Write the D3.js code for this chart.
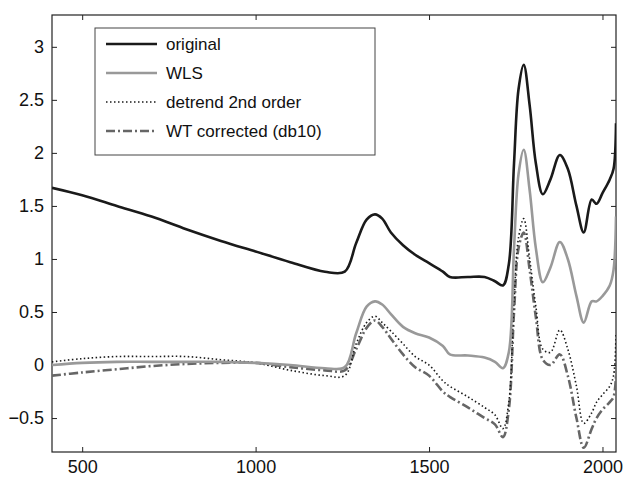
<!DOCTYPE html>
<html><head><meta charset="utf-8">
<script src="https://cdn.jsdelivr.net/npm/d3@7"></script>
<style>body{margin:0;background:#fff}text{font-family:"Liberation Sans",Arial,sans-serif}</style>
</head><body><svg id="chart" width="626" height="479"></svg>
<script>
var xs = [413,500,600,700,800,900,1000,1100,1200,1257,1290,1320,1344,1365,1390,1425,1460,1500,1540,1560,1612,1660,1690,1713,1730,1745,1758,1773,1790,1808,1828,1850,1877,1900,1925,1946,1969,1983,2000,2021,2032,2039];
var original = [1.67,1.6,1.5,1.4,1.28,1.17,1.07,0.97,0.88,0.88,1.15,1.37,1.42,1.38,1.25,1.13,1.04,0.96,0.88,0.83,0.83,0.83,0.79,0.75,0.95,1.9,2.6,2.83,2.45,1.9,1.61,1.75,1.98,1.85,1.5,1.25,1.56,1.52,1.62,1.75,1.85,2.28];
var wls = [0.0,0.02,0.03,0.03,0.03,0.03,0.02,0.0,-0.03,-0.02,0.3,0.55,0.6,0.57,0.48,0.36,0.3,0.26,0.18,0.1,0.09,0.07,0.03,-0.03,0.12,1.1,1.8,2.03,1.65,1.1,0.78,0.92,1.16,1.0,0.65,0.4,0.6,0.6,0.65,0.75,0.9,1.4];
var detrend = [0.03,0.06,0.08,0.08,0.08,0.05,0.02,-0.05,-0.1,-0.1,0.2,0.4,0.46,0.4,0.32,0.2,0.08,0.0,-0.15,-0.2,-0.3,-0.4,-0.47,-0.6,-0.35,0.6,1.2,1.38,1.0,0.55,0.15,0.12,0.33,0.15,-0.2,-0.55,-0.45,-0.35,-0.28,-0.2,-0.1,0.3];
var wt = [-0.1,-0.07,-0.04,-0.01,0.01,0.02,0.02,-0.02,-0.05,-0.05,0.15,0.35,0.42,0.36,0.25,0.1,-0.02,-0.1,-0.25,-0.3,-0.4,-0.5,-0.56,-0.68,-0.42,0.5,1.1,1.25,0.9,0.45,0.05,0.0,0.1,-0.1,-0.5,-0.78,-0.6,-0.5,-0.42,-0.35,-0.3,-0.1];
var xTicks = [500,1000,1500,2000];
var yTicks = [-0.5,0,0.5,1,1.5,2,2.5,3];
var series = [
  {name:"original", values:original, color:"#1a1a1a", width:2.6, dash:null},
  {name:"WLS", values:wls, color:"#999", width:2.6, dash:null},
  {name:"detrend 2nd order", values:detrend, color:"#1a1a1a", width:1.6, dash:"1.5,2.5"},
  {name:"WT corrected (db10)", values:wt, color:"#666", width:2.6, dash:"9,3,2,3"}
];

var svg = d3.select("#chart");
var pl = 52, pr = 616, pt = 15, pb = 452;
var x = d3.scaleLinear().domain([413,2039]).range([pl,pr]);
var y = d3.scaleLinear().domain([-0.82,3.3]).range([pb,pt]);

svg.append("rect").attr("x",pl).attr("y",pt).attr("width",pr-pl).attr("height",pb-pt)
  .attr("fill","none").attr("stroke","#222").attr("stroke-width",1.2);

var xa = svg.append("g").attr("transform","translate(0,"+pb+")")
  .call(d3.axisBottom(x).tickValues(xTicks).tickSize(-5).tickPadding(8).tickFormat(d3.format("d")));
var xa2 = svg.append("g").attr("transform","translate(0,"+pt+")")
  .call(d3.axisTop(x).tickValues(xTicks).tickSize(-5).tickFormat(""));
var ya = svg.append("g").attr("transform","translate("+pl+",0)")
  .call(d3.axisLeft(y).tickValues(yTicks).tickSize(-5).tickPadding(8).tickFormat(function(d){return d<0?"\u2212"+(-d):d;}));
var ya2 = svg.append("g").attr("transform","translate("+pr+",0)")
  .call(d3.axisRight(y).tickValues(yTicks).tickSize(-5).tickFormat(""));
[xa,xa2,ya,ya2].forEach(function(a){
  a.select(".domain").remove();
  a.selectAll("line").attr("stroke","#222");
  a.selectAll("text").attr("font-size",18).attr("fill","#111");
});

var line = d3.line().x(function(d,i){return x(xs[i]);}).y(function(d){return y(d);}).curve(d3.curveCatmullRom);
svg.append("clipPath").attr("id","c").append("rect").attr("x",pl).attr("y",pt).attr("width",pr-pl).attr("height",pb-pt);
series.slice().reverse().forEach(function(s){
  svg.append("path").attr("d",line(s.values)).attr("fill","none").attr("clip-path","url(#c)")
    .attr("stroke",s.color).attr("stroke-width",s.width).attr("stroke-dasharray",s.dash);
});

var lg = svg.append("g");
lg.append("rect").attr("x",95).attr("y",28).attr("width",280).attr("height",127)
  .attr("fill","#fff").attr("stroke","#444").attr("stroke-width",1);
series.forEach(function(s,i){
  var yy = 44 + i*29;
  lg.append("line").attr("x1",106).attr("x2",157).attr("y1",yy).attr("y2",yy)
    .attr("stroke",s.color).attr("stroke-width",s.width).attr("stroke-dasharray",s.dash);
  lg.append("text").attr("x",166).attr("y",yy+6).attr("font-size",17).attr("fill","#111").text(s.name);
});
</script></body></html>
